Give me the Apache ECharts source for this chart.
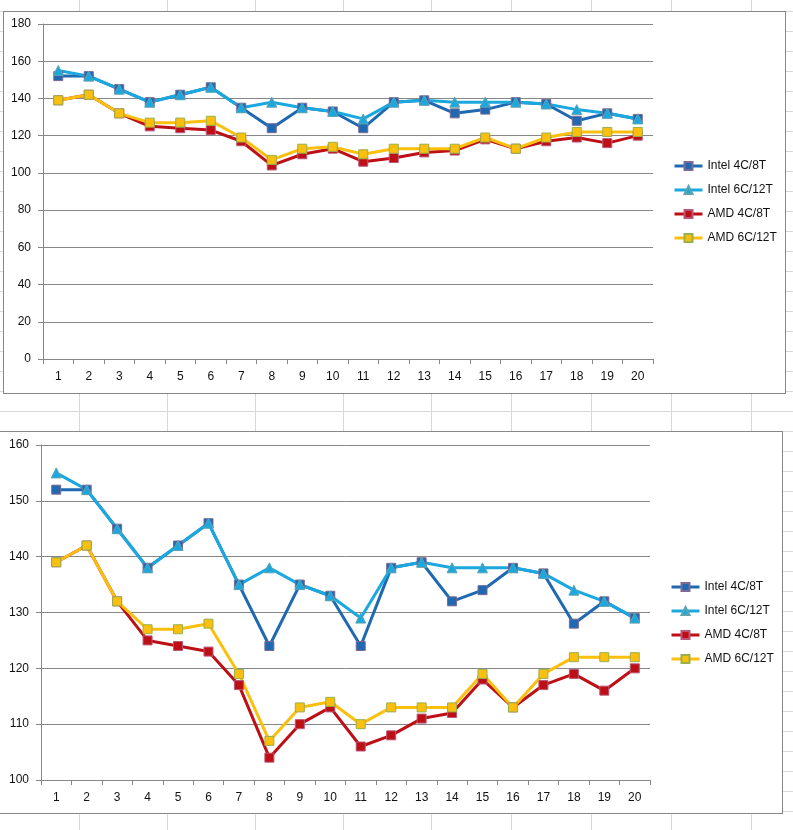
<!DOCTYPE html>
<html>
<head>
<meta charset="utf-8">
<script src="https://cdn.jsdelivr.net/npm/echarts@6/dist/echarts.min.js"></script>
<style>
  html, body { margin: 0; padding: 0; }
  body {
    width: 793px; height: 830px; overflow: hidden; position: relative;
    background-color: #fff;
    background-image: linear-gradient(to bottom, #d6d7db 1px, transparent 1px);
    background-size: 100% 20px;
    background-position: 0 11px;
  }
  .col { position: absolute; top: 0; width: 1px; height: 830px; background: #d6d7db; }
  .box { position: absolute; box-sizing: border-box; border: 1px solid #878787; background: #fff; }
  #top { left: 3px; top: 11px; width: 783px; height: 383px; }
  #bottom { left: -3px; top: 431px; width: 786px; height: 383px; }
</style>
</head>
<body>
<div id="top" class="box"></div>
<div id="bottom" class="box"></div>
<script>
// spreadsheet column lines behind the charts
const sheetCols = [79, 167, 255, 343, 431, 511, 591, 671, 751];
sheetCols.forEach(function (x) {
    let d = document.createElement('div');
    d.className = 'col';
    d.style.left = x + 'px';
    document.body.insertBefore(d, document.body.firstChild);
});

const runs = ['1', '2', '3', '4', '5', '6', '7', '8', '9', '10',
              '11', '12', '13', '14', '15', '16', '17', '18', '19', '20'];
const intel4c = [152, 152, 145, 138, 142, 146, 135, 124, 135, 133, 124, 138, 139, 132, 134, 138, 137, 128, 132, 129];
const intel6c = [155, 152, 145, 138, 142, 146, 135, 138, 135, 133, 129, 138, 139, 138, 138, 138, 137, 134, 132, 129];
const amd4c   = [139, 142, 132, 125, 124, 123, 117, 104, 110, 113, 106, 108, 111, 112, 118, 113, 117, 119, 116, 120];
const amd6c   = [139, 142, 132, 127, 127, 128, 119, 107, 113, 114, 110, 113, 113, 113, 119, 113, 119, 122, 122, 122];

const seriesDefs = [
    { name: 'Intel 4C/8T', data: intel4c, color: '#1e69b1', symbol: 'rect', size: 9, border: '#7d6a93' },
    { name: 'Intel 6C/12T', data: intel6c, color: '#1aa8de', symbol: 'triangle', size: 10, border: '#5fa3b0' },
    { name: 'AMD 4C/8T', data: amd4c, color: '#bd0f16', symbol: 'rect', size: 9, border: '#b8577a' },
    { name: 'AMD 6C/12T', data: amd6c, color: '#fbbf0e', symbol: 'rect', size: 9, border: '#9ab04c' }
];

const font = '"Liberation Sans", Arial, sans-serif';
const gray = '#878787';

function buildOption(cfg) {
    return {
        animation: false,
        grid: cfg.grid,
        legend: {
            orient: 'vertical',
            left: cfg.legendLeft,
            top: cfg.legendTop,
            itemWidth: 28,
            itemHeight: 10,
            itemGap: 12,
            lineStyle: { width: 3 },
            textStyle: { fontFamily: font, fontSize: 12, color: '#111' },
            data: seriesDefs.map(s => s.name)
        },
        xAxis: {
            type: 'category',
            data: runs,
            axisLine: { lineStyle: { color: gray, width: 1 } },
            axisTick: { show: true, length: 5, lineStyle: { color: gray } },
            axisLabel: { fontFamily: font, fontSize: 12, color: '#111', margin: 12 },
            splitLine: { show: false }
        },
        yAxis: {
            type: 'value',
            min: cfg.min,
            max: cfg.max,
            interval: cfg.interval,
            axisLine: { show: true, lineStyle: { color: gray, width: 1 } },
            axisTick: { show: true, length: 5, lineStyle: { color: gray } },
            axisLabel: { fontFamily: font, fontSize: 12, color: '#111', margin: 12 },
            splitLine: { lineStyle: { color: gray, width: 1 } }
        },
        series: seriesDefs.map(s => ({
            name: s.name,
            type: 'line',
            data: s.data,
            symbol: s.symbol,
            symbolSize: s.size,
            lineStyle: { color: s.color, width: 3 },
            itemStyle: { color: s.color, borderColor: s.border, borderWidth: 1 }
        }))
    };
}

const topChart = echarts.init(document.getElementById('top'));
topChart.setOption(buildOption({
    grid: { left: 39, top: 12, width: 610, height: 335 },
    min: 0, max: 180, interval: 20,
    legendLeft: 664, legendTop: 143
}));

const bottomChart = echarts.init(document.getElementById('bottom'));
bottomChart.setOption(buildOption({
    grid: { left: 43, top: 13, width: 609, height: 335 },
    min: 100, max: 160, interval: 10,
    legendLeft: 667, legendTop: 144
}));
</script>
</body>
</html>
